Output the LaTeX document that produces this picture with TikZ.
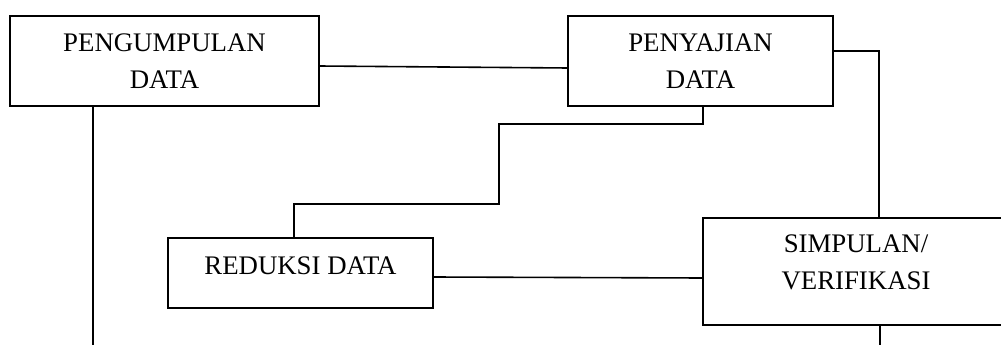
\documentclass[tikz,border=0pt]{standalone}
\usepackage{fontspec}
\setmainfont{Liberation Serif}
\begin{document}
\begin{tikzpicture}[x=1pt,y=-1pt,
  box/.style={draw,line width=1.6pt,rectangle,inner sep=0pt,outer sep=0pt,
    align=center,font=\fontsize{26.8}{36.5}\selectfont},
  link/.style={line width=1.6pt}]
\clip (0,0) rectangle (1001,345);
\fill[white] (0,0) rectangle (1001,345);

% process boxes
\node[box,minimum width=309pt,minimum height=90pt] (kumpul) at (164.5,61) {PENGUMPULAN\\DATA};
\node[box,minimum width=265pt,minimum height=90pt] (saji) at (700.5,61) {PENYAJIAN\\DATA};
\node[box,minimum width=265pt,minimum height=70pt,text depth=15pt] (reduksi) at (300.5,273) {REDUKSI DATA};
\node[box,minimum width=306pt,minimum height=107pt,text depth=19pt] (simpul) at (856,271.5) {SIMPULAN/\\VERIFIKASI};

% free ends at the lower edge
\coordinate (endA) at (93,345);
\coordinate (endB) at (880,345);
\coordinate (stepA) at (499,124);
\coordinate (stepB) at (294,204);

% connectors
\draw[link] ([yshift=-5pt]kumpul.east) -- ([yshift=-7pt]saji.west);
\draw[link] (kumpul.south -| endA) -- (endA);
\draw[link] ([xshift=2.5pt]saji.south) |- (stepA) |- (stepB) -- (stepB |- reduksi.north);
\draw[link] ([yshift=10pt]saji.east) -| ([xshift=23pt]simpul.north);
\draw[link] ([yshift=-4pt]reduksi.east) -- ([yshift=-6.5pt]simpul.west);
\draw[link] (simpul.south -| endB) -- (endB);
\end{tikzpicture}
\end{document}
